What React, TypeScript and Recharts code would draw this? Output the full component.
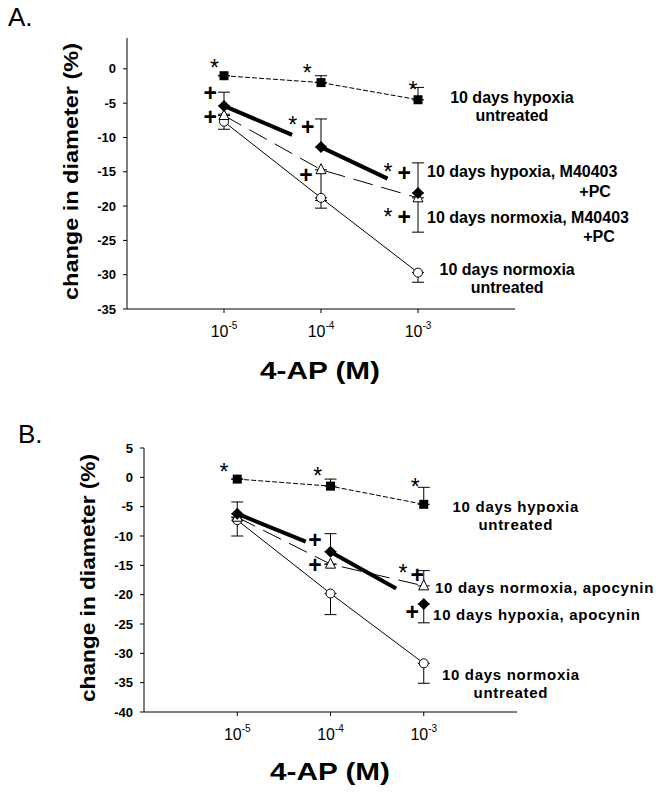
import React from 'react';
import { LineChart, Line, XAxis, YAxis, ErrorBar, ReferenceDot } from 'recharts';

// 4-AP dose response, two panels (A: M40403+PC, B: apocynin)
const FONT = '"Liberation Sans", Arial, Helvetica, sans-serif';

const doses = [1e-5, 1e-4, 1e-3];
const xTicks = [1e-5, 1e-4, 1e-3];
const xDomain = [1e-6, 1e-2];

// panel A values (% change in diameter) and [minus, plus] errors
const aHypoxiaUntreated = [-1.0, -2.0, -4.5];
const aHypoxiaUntreatedErr = [[0, 0], [0, 1.0], [0, 1.8]];
const aHypoxiaM40403 = [-5.4, -11.4, -18.1];
const aHypoxiaM40403Err = [[0, 2.0], [0, 4.1], [0, 4.4]];
const aNormoxiaM40403 = [-6.8, -14.7, -18.8];
const aNormoxiaM40403Err = [[0, 0], [4.5, 0], [5.0, 0]];
const aNormoxiaUntreated = [-7.7, -18.8, -29.7];
const aNormoxiaUntreatedErr = [[1.1, 1.1], [1.5, 0], [1.4, 0]];
const aYTicks = [0, -5, -10, -15, -20, -25, -30, -35];

// panel B values
const bHypoxiaUntreated = [-0.3, -1.5, -4.6];
const bHypoxiaUntreatedErr = [[0, 0], [0, 1.2], [0, 2.9]];
const bHypoxiaApocynin = [-6.2, -12.7, -21.6];
const bHypoxiaApocyninErr = [[0, 2.0], [0, 3.1], [3.2, 0]];
const bNormoxiaApocynin = [-6.8, -14.8, -18.5];
const bNormoxiaApocyninErr = [[0, 0], [0, 0], [0, 2.6]];
const bNormoxiaUntreated = [-7.3, -19.8, -31.7];
const bNormoxiaUntreatedErr = [[2.7, 0], [3.6, 0], [3.4, 0]];
const bYTicks = [5, 0, -5, -10, -15, -20, -25, -30, -35, -40];

// significance marks, anchored in data space
const aMarks = [
  { x: 8.0e-6, y: 0.9, t: '*' },
  { x: 7.2e-5, y: 0.1, t: '*' },
  { x: 8.9e-4, y: -2.3, t: '*' },
  { x: 7.2e-6, y: -3.6, t: '+' },
  { x: 7.2e-6, y: -7.1, t: '+' },
  { x: 5.1e-5, y: -7.4, t: '*' },
  { x: 7.3e-5, y: -8.5, t: '+' },
  { x: 7.0e-5, y: -15.6, t: '+' },
  { x: 4.9e-4, y: -14.3, t: '*' },
  { x: 7.2e-4, y: -15.2, t: '+' },
  { x: 4.9e-4, y: -20.8, t: '*' },
  { x: 7.2e-4, y: -21.6, t: '+' },
];
const bMarks = [
  { x: 7.2e-6, y: 1.7, t: '*' },
  { x: 7.3e-5, y: 1.0, t: '*' },
  { x: 8.1e-4, y: -0.85, t: '*' },
  { x: 6.8e-5, y: -10.7, t: '+' },
  { x: 6.8e-5, y: -15.0, t: '+' },
  { x: 6.0e-4, y: -15.5, t: '*' },
  { x: 8.5e-4, y: -16.7, t: '+' },
  { x: 7.5e-4, y: -23.0, t: '+' },
];

// series labels (baseline anchors)
const aLabels = [
  { x: 9.3e-3, y: -4.97, t: '10 days hypoxia', a: 'middle' },
  { x: 9.3e-3, y: -7.58, t: 'untreated', a: 'middle' },
  { x: 1.24e-3, y: -15.76, t: '10 days hypoxia, M40403', a: 'start' },
  { x: 6.7e-2, y: -18.67, t: '+PC', a: 'middle' },
  { x: 1.24e-3, y: -22.46, t: '10 days normoxia, M40403', a: 'start' },
  { x: 7.35e-2, y: -25.23, t: '+PC', a: 'middle' },
  { x: 8.3e-3, y: -30.04, t: '10 days normoxia', a: 'middle' },
  { x: 8.3e-3, y: -32.67, t: 'untreated', a: 'middle' },
];
const bLabels = [
  { x: 9.7e-3, y: -5.91, t: '10 days hypoxia', a: 'middle' },
  { x: 9.7e-3, y: -8.98, t: 'untreated', a: 'middle' },
  { x: 1.32e-3, y: -19.72, t: '10 days normoxia, apocynin', a: 'start' },
  { x: 1.26e-3, y: -24.32, t: '10 days hypoxia, apocynin', a: 'start' },
  { x: 8.6e-3, y: -34.55, t: '10 days normoxia', a: 'middle' },
  { x: 8.6e-3, y: -37.6, t: 'untreated', a: 'middle' },
];

const rows = (vals: number[], errs: number[][]) =>
  doses.map((x, i) => ({ x, y: vals[i], err: errs[i] }));

const Square = (p: any) => (
  <rect key={p.index} x={p.cx - 4.5} y={p.cy - 4.5} width={9} height={9} fill="#000" />
);
const Diamond = (p: any) => (
  <polygon key={p.index} points={`${p.cx},${p.cy - 6} ${p.cx + 6},${p.cy} ${p.cx},${p.cy + 6} ${p.cx - 6},${p.cy}`} fill="#000" />
);
const Triangle = (p: any) => (
  <polygon key={p.index} points={`${p.cx},${p.cy - 6} ${p.cx + 5},${p.cy + 4} ${p.cx - 5},${p.cy + 4}`} fill="#fff" stroke="#000" strokeWidth={1} />
);
const Circle = (p: any) => (
  <circle key={p.index} cx={p.cx} cy={p.cy} r={4.5} fill="#fff" stroke="#000" strokeWidth={1} />
);

function PowerTick(props: any) {
  const { x, y, payload } = props;
  const exp = Math.round(Math.log10(payload.value));
  return (
    <text x={x} y={y + 22} textAnchor="middle" fontSize={16} fill="#000" fontFamily={FONT}>
      10<tspan dy={-8} fontSize={10}>{exp}</tspan>
    </text>
  );
}

const markShape = (t: string) => (p: any) =>
  t === '*' ? (
    <text x={p.cx} y={p.cy + 13} textAnchor="middle" fontSize={23} fill="#000" fontFamily={FONT}>*</text>
  ) : (
    <text x={p.cx} y={p.cy + 7.5} textAnchor="middle" fontSize={23} fontWeight="bold" fill="#000" fontFamily={FONT}>+</text>
  );

const labelShape = (t: string, a: string, size: number, spacing: number) => (p: any) => (
  <text x={p.cx} y={p.cy} textAnchor={a} fontSize={size} fontWeight="bold" letterSpacing={spacing} fill="#000" fontFamily={FONT}>
    {t}
  </text>
);

interface SeriesDef {
  name: string;
  data: Array<{ x: number; y: number; err: number[] }>;
  dot: (p: any) => React.ReactElement;
  width: number;
  dash?: string;
}

interface PanelProps {
  height: number;
  margin: { top: number; right: number; bottom: number; left: number };
  yDomain: number[];
  yTicks: number[];
  series: SeriesDef[];
  marks: Array<{ x: number; y: number; t: string }>;
  labels: Array<{ x: number; y: number; t: string; a: string }>;
  labelSize: number;
  labelSpacing: number;
}

function Panel({ height, margin, yDomain, yTicks, series, marks, labels, labelSize, labelSpacing }: PanelProps) {
  return (
    <LineChart width={660} height={height} margin={margin}>
      <XAxis
        type="number" dataKey="x" scale="log" domain={xDomain} allowDataOverflow
        ticks={xTicks} interval={0} tick={<PowerTick />} tickSize={4} tickMargin={2}
        height={40} stroke="#000" axisLine={{ stroke: '#000' }} tickLine={{ stroke: '#000' }}
      />
      <YAxis
        type="number" domain={yDomain} ticks={yTicks} interval={0} allowDataOverflow
        width={60} tickSize={4} tickMargin={7} stroke="#000"
        tick={{ fill: '#000', fontSize: 13, fontWeight: 'bold', fontFamily: FONT }}
      />
      {series.map((s) => (
        <Line
          key={s.name} name={s.name} data={s.data} dataKey="y" type="linear"
          stroke="#000" strokeWidth={s.width} strokeDasharray={s.dash}
          dot={s.dot} activeDot={false} isAnimationActive={false}
        >
          <ErrorBar dataKey="err" width={6} stroke="#000" strokeWidth={1} direction="y" />
        </Line>
      ))}
      {marks.map((m, i) => (
        <ReferenceDot key={'m' + i} x={m.x} y={m.y} r={1} ifOverflow="visible" shape={markShape(m.t)} />
      ))}
      {labels.map((l, i) => (
        <ReferenceDot key={'l' + i} x={l.x} y={l.y} r={1} ifOverflow="visible" shape={labelShape(l.t, l.a, labelSize, labelSpacing)} />
      ))}
    </LineChart>
  );
}

const seriesA: SeriesDef[] = [
  { name: '10 days normoxia untreated', data: rows(aNormoxiaUntreated, aNormoxiaUntreatedErr), dot: Circle, width: 1 },
  { name: '10 days normoxia, M40403 +PC', data: rows(aNormoxiaM40403, aNormoxiaM40403Err), dot: Triangle, width: 1, dash: '20 9' },
  { name: '10 days hypoxia, M40403 +PC', data: rows(aHypoxiaM40403, aHypoxiaM40403Err), dot: Diamond, width: 4, dash: '74 31' },
  { name: '10 days hypoxia untreated', data: rows(aHypoxiaUntreated, aHypoxiaUntreatedErr), dot: Square, width: 1, dash: '5 2' },
];

const seriesB: SeriesDef[] = [
  { name: '10 days normoxia untreated', data: rows(bNormoxiaUntreated, bNormoxiaUntreatedErr), dot: Circle, width: 1 },
  { name: '10 days normoxia, apocynin', data: rows(bNormoxiaApocynin, bNormoxiaApocyninErr), dot: Triangle, width: 1, dash: '20 9' },
  { name: '10 days hypoxia, apocynin', data: rows(bHypoxiaApocynin, bHypoxiaApocyninErr), dot: Diamond, width: 4, dash: '74 28' },
  { name: '10 days hypoxia untreated', data: rows(bHypoxiaUntreated, bHypoxiaUntreatedErr), dot: Square, width: 1, dash: '5 2' },
];

export default function App() {
  return (
    <div style={{ position: 'absolute', left: 0, top: 0, width: 660, height: 796, overflow: 'hidden', background: '#fff', fontFamily: FONT }}>
      <div style={{ position: 'absolute', left: 0, top: 0 }}>
        <Panel
          height={400}
          margin={{ top: 38, right: 145, bottom: 51, left: 67 }}
          yDomain={[-35, 4.5]} yTicks={aYTicks}
          series={seriesA} marks={aMarks} labels={aLabels}
          labelSize={16} labelSpacing={0}
        />
      </div>
      <div style={{ position: 'absolute', left: 0, top: 400 }}>
        <Panel
          height={396}
          margin={{ top: 48, right: 143, bottom: 44, left: 84 }}
          yDomain={[-40, 5]} yTicks={bYTicks}
          series={seriesB} marks={bMarks} labels={bLabels}
          labelSize={15} labelSpacing={0.7}
        />
      </div>
      <svg width={660} height={796} style={{ position: 'absolute', left: 0, top: 0, pointerEvents: 'none' }}>
        <text x={8} y={26} fontSize={26} fill="#000" fontFamily={FONT}>A.</text>
        <text x={18} y={443} fontSize={26} fill="#000" fontFamily={FONT}>B.</text>
        <text transform="translate(78,171.5) rotate(-90)" textAnchor="middle" fontSize={21} fontWeight="bold"
          textLength={257} lengthAdjust="spacingAndGlyphs" fill="#000" fontFamily={FONT}>
          change in diameter (%)
        </text>
        <text transform="translate(95,578) rotate(-90)" textAnchor="middle" fontSize={21} fontWeight="bold"
          textLength={248} lengthAdjust="spacingAndGlyphs" fill="#000" fontFamily={FONT}>
          change in diameter (%)
        </text>
        <text x={320} y={379} textAnchor="middle" fontSize={24} fontWeight="bold" textLength={120}
          lengthAdjust="spacingAndGlyphs" fill="#000" fontFamily={FONT}>4-AP (M)</text>
        <text x={330} y={780} textAnchor="middle" fontSize={24} fontWeight="bold" textLength={120}
          lengthAdjust="spacingAndGlyphs" fill="#000" fontFamily={FONT}>4-AP (M)</text>
      </svg>
    </div>
  );
}
